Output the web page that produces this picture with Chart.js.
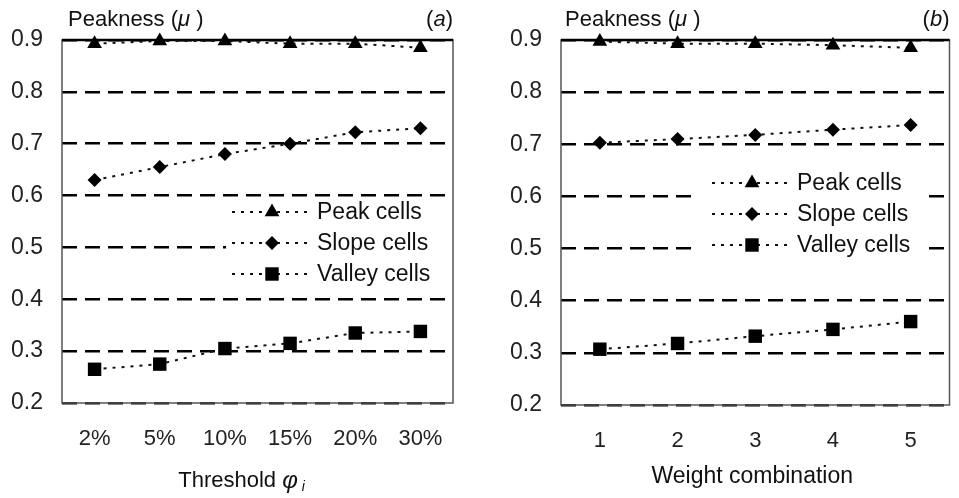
<!DOCTYPE html>
<html>
<head>
<meta charset="utf-8">
<script src="https://cdn.jsdelivr.net/npm/chart.js@4/dist/chart.umd.min.js"></script>
<style>
  body { margin:0; background:#fff; }
  .wrap { position:absolute; top:0; }
</style>
</head>
<body>
<div class="wrap" style="left:0"><canvas id="chartA" width="480" height="498"></canvas></div>
<div class="wrap" style="left:480px"><canvas id="chartB" width="479" height="498"></canvas></div>
<script>
// panel (a): threshold
var thresholdLabels = ['2%', '5%', '10%', '15%', '20%', '30%'];
var peakA = [0.893, 0.898, 0.898, 0.893, 0.893, 0.885];
var slopeA = [0.630, 0.655, 0.680, 0.700, 0.722, 0.730];
var valleyA = [0.265, 0.275, 0.305, 0.315, 0.335, 0.338];

// panel (b): weight combination
var weightLabels = ['1', '2', '3', '4', '5'];
var peakB = [0.897, 0.893, 0.893, 0.890, 0.885];
var slopeB = [0.703, 0.710, 0.718, 0.728, 0.737];
var valleyB = [0.307, 0.318, 0.332, 0.345, 0.360];

var seriesNames = ['Peak cells', 'Slope cells', 'Valley cells'];
var yTicks = [0.2, 0.3, 0.4, 0.5, 0.6, 0.7, 0.8, 0.9];

var FONT = "'Liberation Sans', Arial, sans-serif";

function dataset(name, values, style, radius) {
	return {
		label:name,
		data:values,
		borderColor:'#111',
		backgroundColor:'#000',
		borderWidth:2,
		borderDash:[3, 6],
		pointStyle:style,
		pointRadius:radius,
		pointBorderWidth:0,
		pointBackgroundColor:'#000',
		clip:false,
		tension:0
	};
}

// draws mixed regular / italic pieces of text left to right
function drawParts(ctx, parts, x, y) {
	parts.forEach(function(p) {
		ctx.font = (p.italic ? 'italic ' : '') + p.size + 'px ' + FONT;
		ctx.fillText(p.text, x, y + (p.dy || 0));
		x += ctx.measureText(p.text).width;
	});
	return x;
}

function partsWidth(ctx, parts) {
	var w = 0;
	parts.forEach(function(p) {
		ctx.font = (p.italic ? 'italic ' : '') + p.size + 'px ' + FONT;
		w += ctx.measureText(p.text).width;
	});
	return w;
}

var framePlugin = {
	id:'frame',
	beforeDatasetsDraw:function(chart) {
		var a = chart.chartArea, ctx = chart.ctx;
		ctx.save();
		ctx.strokeStyle = '#555';
		ctx.lineWidth = 1.5;
		ctx.strokeRect(a.left, a.top, a.right - a.left, a.bottom - a.top);
		ctx.strokeStyle = '#000';
		ctx.lineWidth = 2.5;
		ctx.beginPath();
		ctx.moveTo(a.left, a.top);
		ctx.lineTo(a.right, a.top);
		ctx.stroke();
		ctx.restore();
	},
	afterDraw:function(chart, args, o) {
		var a = chart.chartArea, ctx = chart.ctx;
		ctx.save();
		ctx.fillStyle = '#111';
		ctx.textBaseline = 'middle';
		ctx.textAlign = 'left';
		drawParts(ctx, [
			{text:'Peakness (', size:22},
			{text:'\u03bc', size:22, italic:true},
			{text:' )', size:22}
		], a.left + o.titleDx, 20);
		// panel letter
		var letter = [
			{text:'(', size:22},
			{text:o.letter, size:22, italic:true},
			{text:')', size:22}
		];
		drawParts(ctx, letter, a.right - partsWidth(ctx, letter), 20);
		// x axis title
		var tw = partsWidth(ctx, o.xTitle);
		drawParts(ctx, o.xTitle, (a.left + a.right) / 2 - tw / 2 + o.xTitleDx, o.xTitleY);
		ctx.restore();
	}
};

var legendPlugin = {
	id:'inlineLegend',
	afterDatasetsDraw:function(chart, args, o) {
		var ctx = chart.ctx;
		ctx.save();
		ctx.fillStyle = '#fff';
		ctx.fillRect(o.box[0], o.box[1], o.box[2], o.box[3]);
		chart.data.datasets.forEach(function(ds, i) {
			var y = o.y + i * o.gap;
			ctx.strokeStyle = '#111';
			ctx.lineWidth = 2;
			ctx.setLineDash([3, 6]);
			ctx.beginPath();
			ctx.moveTo(o.x, y);
			ctx.lineTo(o.x + 78, y);
			ctx.stroke();
			ctx.setLineDash([]);
			ctx.fillStyle = '#000';
			Chart.helpers.drawPoint(ctx, {pointStyle:ds.pointStyle, radius:ds.pointRadius, borderWidth:0}, o.x + 40, y);
			ctx.fillStyle = '#111';
			ctx.font = '23px ' + FONT;
			ctx.textBaseline = 'middle';
			ctx.fillText(ds.label, o.x + 85, y + 1);
		});
		ctx.restore();
	}
};

function makeChart(id, labels, peak, slope, valley, axisWidth, rightPad, extra) {
	var ctx = document.getElementById(id).getContext('2d');
	return new Chart(ctx, {
		type:'line',
		data:{
			labels:labels,
			datasets:[
				dataset(seriesNames[0], peak, 'triangle', 8.5),
				dataset(seriesNames[1], slope, 'rectRot', 7),
				dataset(seriesNames[2], valley, 'rect', 9.5)
			]
		},
		options:{
			responsive:false,
			animation:false,
			layout:{padding:{top:40, right:rightPad, left:0, bottom:0}},
			plugins:{
				legend:{display:false},
				tooltip:{enabled:false},
				frame:extra.frame,
				inlineLegend:extra.legend
			},
			scales:{
				x:{
					offset:true,
					grid:{display:false},
					border:{display:false},
					ticks:{color:'#222', padding:15, font:{family:FONT, size:22}},
					afterFit:function(s) { s.height = extra.xHeight; }
				},
				y:{
					min:0.2,
					max:0.9,
					afterBuildTicks:function(s) { s.ticks = yTicks.map(function(v) { return {value:v}; }); },
					grid:{color:'#000', lineWidth:2.5, drawTicks:false},
					border:{display:false, dash:[15, 8]},
					ticks:{
						color:'#222',
						padding:19,
						font:{family:FONT, size:23},
						callback:function(v) { return v.toFixed(1); }
					},
					afterFit:function(s) { s.width = axisWidth; }
				}
			}
		},
		plugins:[framePlugin, legendPlugin]
	});
}

makeChart('chartA', thresholdLabels, peakA, slopeA, valleyA, 62, 27, {
	xHeight:95,
	frame:{letter:'a', titleDx:6, xTitleY:481, xTitleDx:-16, xTitle:[
		{text:'Threshold ', size:22},
		{text:'\u03c6', size:24, italic:true},
		{text:' i', size:14, italic:true, dy:6}
	]},
	legend:{x:232, y:212, gap:31, box:[226, 198, 222, 90]}
});

makeChart('chartB', weightLabels, peakB, slopeB, valleyB, 81, 4, {
	xHeight:93,
	frame:{letter:'b', titleDx:4, xTitleY:477, xTitleDx:-3, xTitle:[
		{text:'Weight combination', size:23}
	]},
	legend:{x:232, y:183, gap:31, box:[216, 168, 228, 90]}
});
</script>
</body>
</html>
